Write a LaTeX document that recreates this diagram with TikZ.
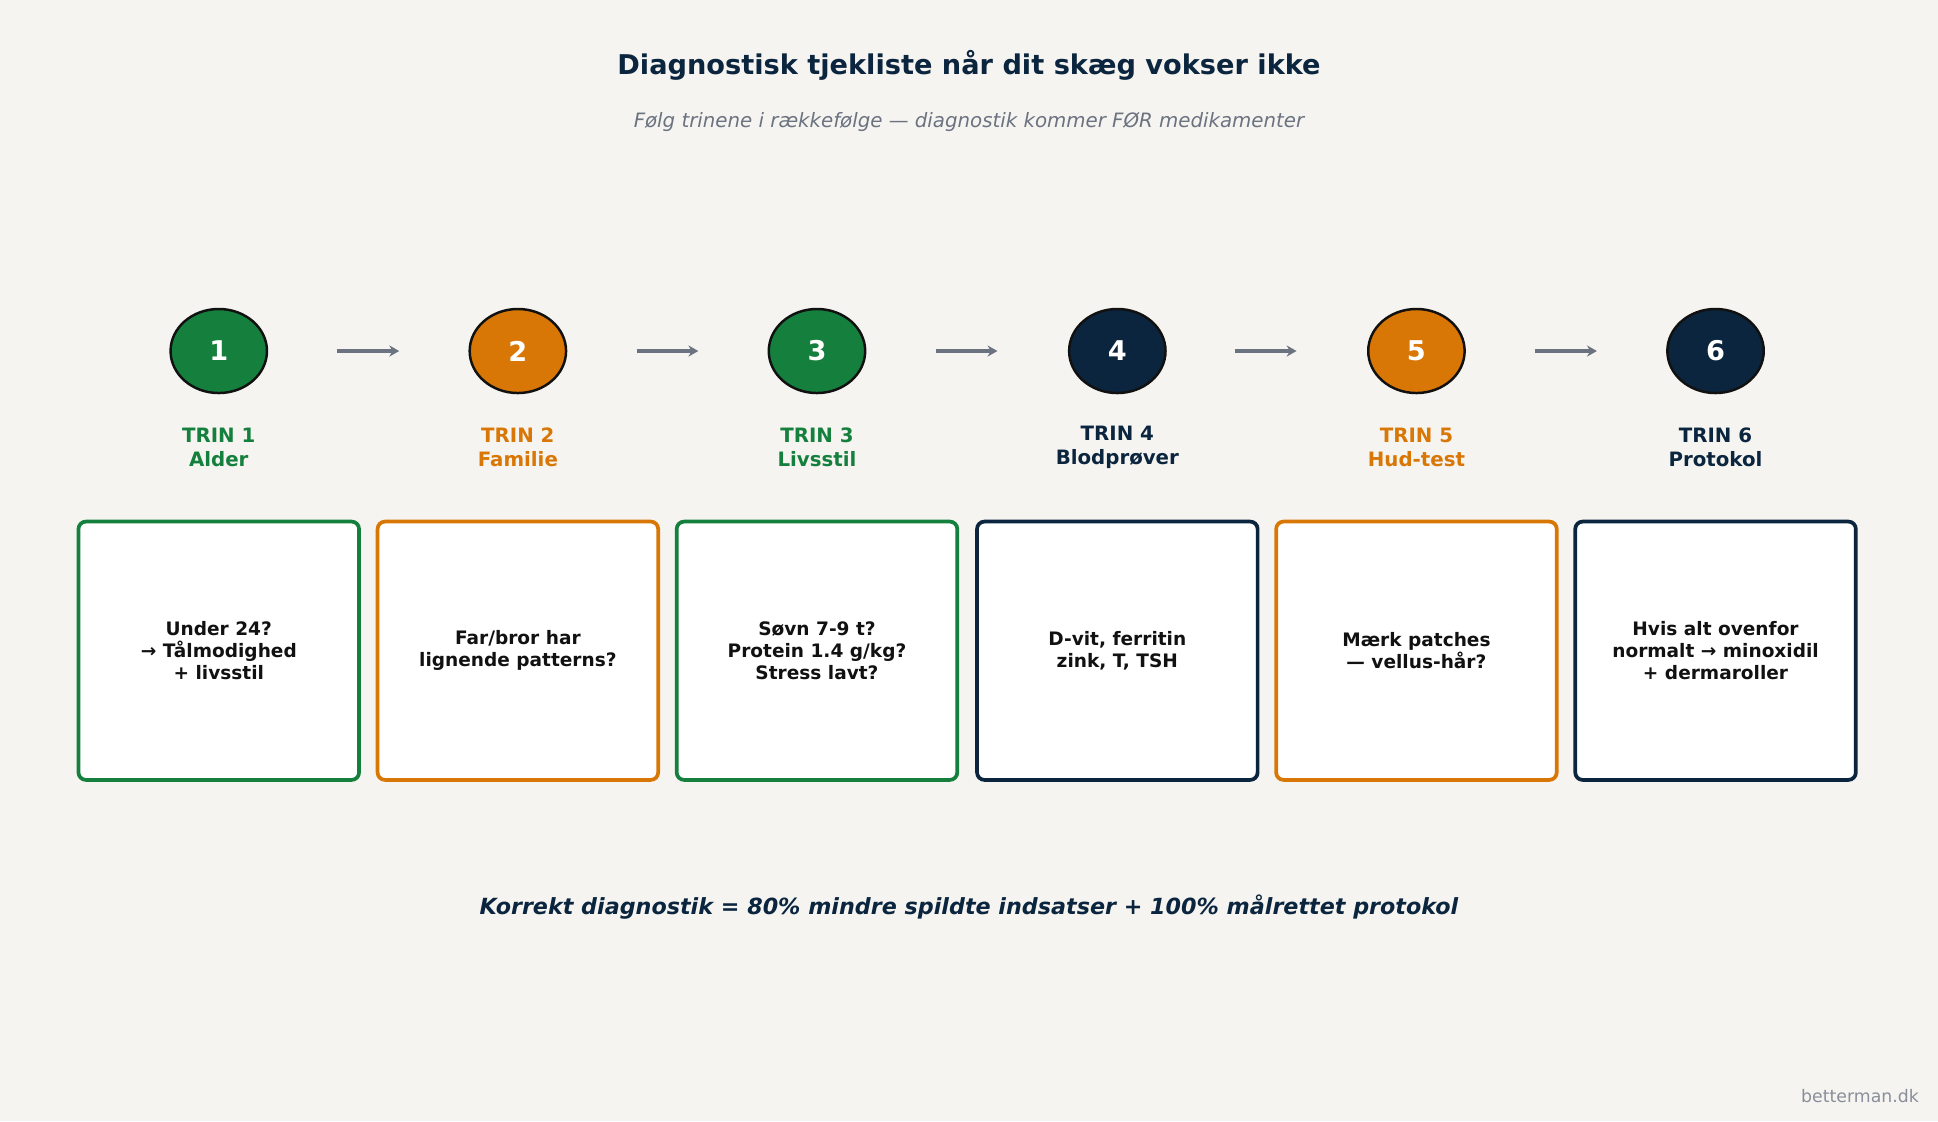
\documentclass[tikz,border=0pt]{standalone}
\usepackage{fontspec}
\setmainfont{DejaVu Sans}
\usetikzlibrary{shapes.geometric,arrows.meta}
\definecolor{bg}{HTML}{F5F4F0}
\definecolor{cg}{HTML}{15803D}
\definecolor{co}{HTML}{D97706}
\definecolor{cn}{HTML}{0B253F}
\definecolor{gr}{HTML}{6B7280}
\definecolor{tx}{HTML}{111111}
\tikzset{
 circ/.style={ellipse,draw=tx,line width=2pt,minimum width=78pt,minimum height=68pt,inner sep=0pt,text=white,font=\fontsize{22}{26}\selectfont\bfseries},
 lab/.style={align=center,font=\fontsize{16}{19}\selectfont\bfseries},
 card/.style={draw,rounded corners=6pt,line width=3pt,fill=white,minimum width=227pt,minimum height=209pt,align=center,text=tx,font=\fontsize{15}{18}\selectfont\bfseries},
 arr/.style={draw=gr,line width=3pt,-{Stealth[length=8pt,width=9pt]}}
}
\begin{document}
\begin{tikzpicture}[x=1pt,y=-1pt]
\fill[bg] (0,0) rectangle (1568,907);
\node[text=cn,font=\fontsize{22}{26}\selectfont\bfseries] (title) at (784,53) {Diagnostisk tjekliste når dit skæg vokser ikke};
\node[text=gr,font=\fontsize{16}{19}\selectfont\itshape] (sub) at (784,99) {Følg trinene i rækkefølge — diagnostik kommer FØR medikamenter};
\foreach \i/\x/\c/\t/\b in {
 1/177/cg/Alder/{Under 24?\\→ Tålmodighed\\+ livsstil},
 2/419/co/Familie/{Far/bror har\\lignende patterns?},
 3/661/cg/Livsstil/{Søvn 7-9 t?\\Protein 1.4 g/kg?\\Stress lavt?},
 4/904/cn/Blodprøver/{D-vit, ferritin\\zink, T, TSH},
 5/1146/co/Hud-test/{Mærk patches\\— vellus-hår?},
 6/1388/cn/Protokol/{Hvis alt ovenfor\\normalt → minoxidil\\+ dermaroller}}{
 \node[circ,fill=\c] (c\i) at (\x,284) {\i};
 \node[lab,text=\c] (l\i) at (\x,362) {TRIN \i\\\t};
 \node[card,draw=\c] (b\i) at (\x,526.5) {\b};
}
\foreach \i/\x in {1/273,2/515,3/757,4/999,5/1242}{
 \coordinate (s\i) at (\x,284);
 \coordinate (e\i) at (\x+50,284);
 \draw[arr] (s\i) -- (e\i);
}
\node[text=cn,font=\fontsize{18}{22}\selectfont\bfseries\itshape] (foot) at (784,734) {Korrekt diagnostik = 80\% mindre spildte indsatser + 100\% målrettet protokol};
\node[text=gr!80,font=\fontsize{14}{17}\selectfont,anchor=east] (wm) at (1556,887) {betterman.dk};
\end{tikzpicture}
\end{document}
